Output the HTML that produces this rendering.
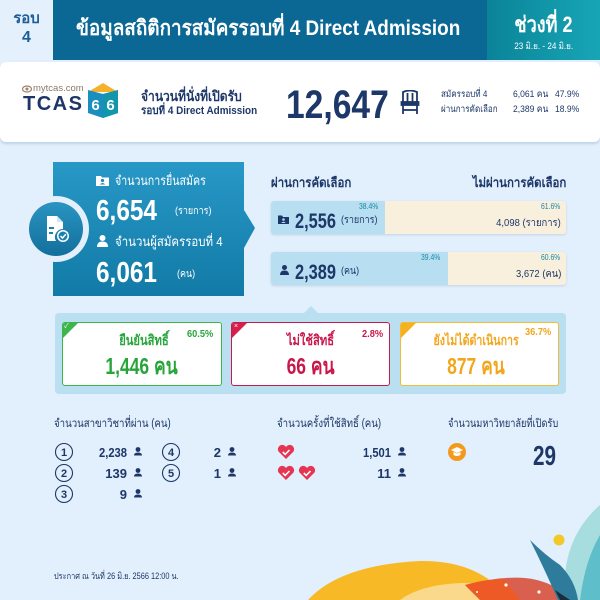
<!DOCTYPE html>
<html><head><meta charset="utf-8">
<style>
*{margin:0;padding:0;box-sizing:border-box}
body{width:600px;height:600px;overflow:hidden;background:#e2effc;font-family:"Liberation Sans","Noto Sans CJK SC",sans-serif;position:relative;color:#1c3768}
.a{position:absolute;white-space:nowrap;line-height:1}
.n{color:#1c3768}
.sx{transform-origin:left center;display:inline-block}
.sc{transform-origin:center center;display:inline-block}
.sr{transform-origin:right center;display:inline-block}
</style></head><body>

<!-- Header -->
<div class="a" style="left:0;top:0;width:53px;height:60px;background:#e4f0fb"></div>
<div class="a" style="left:0;top:11px;width:53px;text-align:center;font-size:15px;font-weight:bold;color:#1c5d98">รอบ</div>
<div class="a" style="left:0;top:30px;width:53px;text-align:center;font-size:16px;font-weight:bold;color:#1c5d98">4</div>
<div class="a" style="left:53px;top:0;width:434px;height:60px;background:#0b6894"></div>
<div class="a" style="left:76px;top:18px;font-size:21px;font-weight:bold;color:#fff"><span class="sx" style="transform:scaleX(.9)">ข้อมูลสถิติการสมัครรอบที่ 4 Direct Admission</span></div>
<div class="a" style="left:487px;top:0;width:113px;height:60px;background:linear-gradient(90deg,#0b8398,#17a6b6)"></div>
<div class="a" style="left:487px;top:14px;width:113px;text-align:center;font-size:22px;font-weight:bold;color:#fff"><span class="sc" style="transform:scaleX(.82)">ช่วงที่ 2</span></div>
<div class="a" style="left:487px;top:42px;width:113px;text-align:center;font-size:9px;color:#fff"><span class="sc" style="transform:scaleX(.9)">23 มิ.ย. - 24 มิ.ย.</span></div>

<!-- White band -->
<div class="a" style="left:0;top:62px;width:600px;height:80px;background:#fff;border-radius:6px;box-shadow:0 2px 2px rgba(120,160,200,.35)"></div>
<svg class="a" style="left:22px;top:85px" width="10" height="8" viewBox="0 0 10 8"><ellipse cx="5" cy="4" rx="4.5" ry="3" fill="none" stroke="#a0826a" stroke-width="1.2"/><circle cx="5" cy="4" r="1.5" fill="#a0826a"/></svg>
<div class="a" style="left:33px;top:84px;font-size:9.5px;color:#8c7868">mytcas.com</div>
<div class="a" style="left:23px;top:94px;font-size:20px;font-weight:bold;color:#1d3567;letter-spacing:1.5px">TCAS</div>
<svg class="a" style="left:86px;top:82px" width="34" height="37" viewBox="0 0 34 37">
<polygon points="2,10 17,1 32,10" fill="#f4b22a"/>
<polygon points="2,8 17,12 32,8 32,31 17,36 2,31" fill="#1a8fbf"/>
<polygon points="17,12 32,8 32,31 17,36" fill="#1196ab"/>
<text x="9.5" y="28" font-family="Liberation Sans" font-size="15" font-weight="bold" fill="#fff" text-anchor="middle">6</text>
<text x="24.5" y="28" font-family="Liberation Sans" font-size="15" font-weight="bold" fill="#fff" text-anchor="middle">6</text>
</svg>
<div class="a n" style="left:141px;top:89px;font-size:14px;font-weight:bold"><span class="sx" style="transform:scaleX(.86)">จำนวนที่นั่งที่เปิดรับ</span></div>
<div class="a n" style="left:141px;top:106px;font-size:11px;font-weight:bold"><span class="sx" style="transform:scaleX(.9)">รอบที่ 4 Direct Admission</span></div>
<div class="a n" style="left:286px;top:85px;font-size:40px;font-weight:bold"><span class="sx" style="transform:scaleX(.84)">12,647</span></div>
<svg class="a" style="left:400px;top:90px" width="20" height="25" viewBox="0 0 20 25" fill="none" stroke="#1c3768" stroke-width="1.8">
<path d="M3 12 V2 Q10 -1 17 2 V12"/><line x1="7.5" y1="3" x2="7.5" y2="12"/><line x1="12.5" y1="3" x2="12.5" y2="12"/>
<rect x="1.5" y="12" width="17" height="3" fill="#1c3768"/><line x1="3" y1="15" x2="3" y2="24"/><line x1="17" y1="15" x2="17" y2="24"/><line x1="3" y1="20" x2="17" y2="20"/>
</svg>
<div class="a n" style="left:441px;top:90px;font-size:9.5px"><span class="sx" style="transform:scaleX(.85)">สมัครรอบที่ 4</span></div>
<div class="a n" style="left:513px;top:90px;font-size:9.5px"><span class="sx" style="transform:scaleX(.9)">6,061 คน</span></div>
<div class="a n" style="left:555px;top:90px;font-size:9.5px"><span class="sx" style="transform:scaleX(.9)">47.9%</span></div>
<div class="a n" style="left:441px;top:105px;font-size:9.5px"><span class="sx" style="transform:scaleX(.85)">ผ่านการคัดเลือก</span></div>
<div class="a n" style="left:513px;top:105px;font-size:9.5px"><span class="sx" style="transform:scaleX(.9)">2,389 คน</span></div>
<div class="a n" style="left:555px;top:105px;font-size:9.5px"><span class="sx" style="transform:scaleX(.9)">18.9%</span></div>

<!-- Blue box -->
<div class="a" style="left:53px;top:162px;width:203px;height:134px;background:linear-gradient(180deg,#2898c7,#127aa6);clip-path:polygon(0 0,191px 0,191px 48px,202px 66px,191px 86px,191px 100%,0 100%);box-shadow:0 2px 3px rgba(0,0,0,.2)"></div>
<div class="a" style="left:23px;top:196px;width:66px;height:66px;border-radius:50%;background:#e3effa"></div>
<div class="a" style="left:29px;top:202px;width:54px;height:54px;border-radius:50%;background:linear-gradient(180deg,#2a94c2,#136f9b)"></div>
<svg class="a" style="left:44px;top:215px" width="26" height="28" viewBox="0 0 26 28">
<path d="M3 1 H13 L19 7 V14 A8 8 0 0 0 12 26 H3 Z" fill="#fff"/>
<path d="M13 1 V7 H19" fill="#cfe6f3"/>
<rect x="5" y="12" width="5" height="2" fill="#1a80ad"/><rect x="5" y="17" width="4" height="2" fill="#1a80ad"/>
<circle cx="19" cy="21" r="6" fill="#fff"/><circle cx="19" cy="21" r="4.5" fill="#1a80ad"/>
<path d="M16.5 21 L18.5 23 L21.8 19.2" stroke="#fff" stroke-width="1.5" fill="none"/>
</svg>
<svg class="a" style="left:96px;top:175px" width="13" height="11" viewBox="0 0 13 11"><path d="M0 1 H5 L6 2.5 H13 V11 H0Z" fill="#fff"/><circle cx="6.5" cy="5.5" r="1.6" fill="#1f88b6"/><path d="M3.8 9.5 Q6.5 6.5 9.2 9.5Z" fill="#1f88b6"/></svg>
<div class="a" style="left:115px;top:174px;font-size:13px;color:#fff"><span class="sx" style="transform:scaleX(.82)">จำนวนการยื่นสมัคร</span></div>
<div class="a" style="left:96px;top:197px;font-size:29px;font-weight:bold;color:#fff"><span class="sx" style="transform:scaleX(.84)">6,654</span></div>
<div class="a" style="left:175px;top:207px;font-size:10px;color:#fff"><span class="sx" style="transform:scaleX(.9)">(รายการ)</span></div>
<svg class="a" style="left:97px;top:235px" width="11" height="12" viewBox="0 0 11 12"><circle cx="5.5" cy="3" r="3" fill="#fff"/><path d="M0 12 Q0 6.5 5.5 6.5 Q11 6.5 11 12Z" fill="#fff"/></svg>
<div class="a" style="left:115px;top:235px;font-size:13px;color:#fff"><span class="sx" style="transform:scaleX(.88)">จำนวนผู้สมัครรอบที่ 4</span></div>
<div class="a" style="left:96px;top:259px;font-size:29px;font-weight:bold;color:#fff"><span class="sx" style="transform:scaleX(.84)">6,061</span></div>
<div class="a" style="left:177px;top:270px;font-size:10px;color:#fff"><span class="sx" style="transform:scaleX(.9)">(คน)</span></div>

<!-- Headings right -->
<div class="a n" style="left:271px;top:176px;font-size:13px;font-weight:bold"><span class="sx" style="transform:scaleX(.88)">ผ่านการคัดเลือก</span></div>
<div class="a n" style="right:34px;top:176px;font-size:13px;font-weight:bold"><span class="sr" style="transform:scaleX(.88)">ไม่ผ่านการคัดเลือก</span></div>

<!-- Bar 1 -->
<div class="a" style="left:271px;top:201px;width:295px;height:33px;border-radius:3px;background:linear-gradient(90deg,#b8def1 0,#b8def1 114px,#f8efdc 114px);box-shadow:0 1px 2px rgba(120,150,180,.3)"></div>
<div class="a" style="left:359px;top:203px;font-size:8px;color:#1a8aa6"><span class="sx" style="transform:scaleX(.85)">38.4%</span></div>
<svg class="a" style="left:278px;top:215px" width="11" height="9" viewBox="0 0 11 9"><path d="M0 0.5 H4 L5 2 H11 V9 H0Z" fill="#1c3768"/><circle cx="5.5" cy="4.5" r="1.3" fill="#b8def1"/><path d="M3.3 8 Q5.5 5.6 7.7 8Z" fill="#b8def1"/></svg>
<div class="a n" style="left:295px;top:211px;font-size:21px;font-weight:bold"><span class="sx" style="transform:scaleX(.78)">2,556</span></div>
<div class="a n" style="left:341px;top:216px;font-size:10px"><span class="sx" style="transform:scaleX(.9)">(รายการ)</span></div>
<div class="a" style="left:541px;top:203px;font-size:8px;color:#1a8aa6"><span class="sx" style="transform:scaleX(.85)">61.6%</span></div>
<div class="a n" style="right:39px;top:218px;font-size:10.5px"><span class="sr" style="transform:scaleX(.9)">4,098 (รายการ)</span></div>

<!-- Bar 2 -->
<div class="a" style="left:271px;top:252px;width:295px;height:33px;border-radius:3px;background:linear-gradient(90deg,#b8def1 0,#b8def1 177px,#f8efdc 177px);box-shadow:0 1px 2px rgba(120,150,180,.3)"></div>
<div class="a" style="left:421px;top:254px;font-size:8px;color:#1a8aa6"><span class="sx" style="transform:scaleX(.85)">39.4%</span></div>
<svg class="a" style="left:280px;top:265px" width="9" height="10" viewBox="0 0 9 10"><circle cx="4.5" cy="2.5" r="2.5" fill="#1c3768"/><path d="M0 10 Q0 5.5 4.5 5.5 Q9 5.5 9 10Z" fill="#1c3768"/></svg>
<div class="a n" style="left:295px;top:262px;font-size:21px;font-weight:bold"><span class="sx" style="transform:scaleX(.78)">2,389</span></div>
<div class="a n" style="left:341px;top:267px;font-size:10px"><span class="sx" style="transform:scaleX(.9)">(คน)</span></div>
<div class="a" style="left:541px;top:254px;font-size:8px;color:#1a8aa6"><span class="sx" style="transform:scaleX(.85)">60.6%</span></div>
<div class="a n" style="right:39px;top:269px;font-size:10.5px"><span class="sr" style="transform:scaleX(.9)">3,672 (คน)</span></div>

<!-- Status panel -->
<div class="a" style="left:55px;top:313px;width:511px;height:81px;background:#b9dff1;border-radius:4px"></div>
<div class="a" style="left:304px;top:306px;width:0;height:0;border-left:7px solid transparent;border-right:7px solid transparent;border-bottom:7px solid #b9dff1"></div>

<div class="a" style="left:62px;top:322px;width:160px;height:64px;background:#fff;border:1.5px solid #3cb54a;border-radius:3px;overflow:hidden">
 <div class="a" style="left:0;top:0;width:0;height:0;border-top:15px solid #3cb54a;border-right:15px solid transparent"></div>
 <div class="a" style="left:1px;top:0;font-size:7px;color:#fff">✓</div>
</div>
<div class="a" style="left:64px;top:333px;width:160px;text-align:center;font-size:14px;font-weight:bold;color:#27a53a"><span class="sc" style="transform:scaleX(.8)">ยืนยันสิทธิ์</span></div>
<div class="a" style="left:187px;top:329px;font-size:10.5px;font-weight:bold;color:#27a53a"><span class="sx" style="transform:scaleX(.88)">60.5%</span></div>
<div class="a" style="left:62px;top:355px;width:160px;text-align:center;font-size:23px;font-weight:bold;color:#27a53a"><span class="sc" style="transform:scaleX(.76)">1,446 คน</span></div>

<div class="a" style="left:231px;top:322px;width:159px;height:64px;background:#fff;border:1.5px solid #c41c4d;border-radius:3px;overflow:hidden">
 <div class="a" style="left:0;top:0;width:0;height:0;border-top:15px solid #d81f4a;border-right:15px solid transparent"></div>
 <div class="a" style="left:2px;top:0;font-size:7px;color:#fff">×</div>
</div>
<div class="a" style="left:231px;top:333px;width:159px;text-align:center;font-size:14px;font-weight:bold;color:#c8174b"><span class="sc" style="transform:scaleX(.8)">ไม่ใช้สิทธิ์</span></div>
<div class="a" style="left:362px;top:329px;font-size:10.5px;font-weight:bold;color:#c8174b"><span class="sx" style="transform:scaleX(.88)">2.8%</span></div>
<div class="a" style="left:231px;top:355px;width:159px;text-align:center;font-size:23px;font-weight:bold;color:#c8174b"><span class="sc" style="transform:scaleX(.76)">66 คน</span></div>

<div class="a" style="left:400px;top:322px;width:159px;height:64px;background:#fff;border:1.5px solid #f3bb33;border-radius:3px;overflow:hidden">
 <div class="a" style="left:0;top:0;width:0;height:0;border-top:15px solid #f5b120;border-right:15px solid transparent"></div>
</div>
<div class="a" style="left:400px;top:333px;width:152px;text-align:center;font-size:14px;font-weight:bold;color:#f2a61c"><span class="sc" style="transform:scaleX(.76)">ยังไม่ได้ดำเนินการ</span></div>
<div class="a" style="left:525px;top:327px;font-size:10.5px;font-weight:bold;color:#f2a61c"><span class="sx" style="transform:scaleX(.88)">36.7%</span></div>
<div class="a" style="left:400px;top:355px;width:152px;text-align:center;font-size:23px;font-weight:bold;color:#f2a61c"><span class="sc" style="transform:scaleX(.76)">877 คน</span></div>

<!-- Bottom stats -->
<div class="a n" style="left:54px;top:419px;font-size:11.5px"><span class="sx" style="transform:scaleX(.84)">จำนวนสาขาวิชาที่ผ่าน (คน)</span></div>
<div class="a n" style="left:277px;top:419px;font-size:11.5px"><span class="sx" style="transform:scaleX(.84)">จำนวนครั้งที่ใช้สิทธิ์ (คน)</span></div>
<div class="a n" style="left:448px;top:419px;font-size:11.5px"><span class="sx" style="transform:scaleX(.8)">จำนวนมหาวิทยาลัยที่เปิดรับ</span></div>

<svg class="a" style="left:0;top:0" width="600" height="600" viewBox="0 0 600 600">
<defs>
<g id="p"><circle cx="0" cy="-2.5" r="2.4" fill="#1c3768"/><path d="M-4 3.5 Q-4 0.5 0 0.5 Q4 0.5 4 3.5Z" fill="#1c3768"/></g>
<g id="h"><path d="M0 7 L-7.5 -0.5 A4 4 0 0 1 0 -5 A4 4 0 0 1 7.5 -0.5 Z" fill="#e53552"/><path d="M-3.2 0 L-0.8 2.4 L3.5 -2" stroke="#fff" stroke-width="1.6" fill="none"/></g>
</defs>
<g fill="none" stroke="#1c3768" stroke-width="1.1">
<circle cx="64" cy="452" r="8.5"/><circle cx="64" cy="473" r="8.5"/><circle cx="64" cy="494" r="8.5"/>
<circle cx="171" cy="452" r="8.5"/><circle cx="171" cy="473" r="8.5"/>
</g>
<g font-family="Liberation Sans" font-size="11" font-weight="bold" fill="#1c3768" text-anchor="middle">
<text x="64" y="456">1</text><text x="64" y="477">2</text><text x="64" y="498">3</text>
<text x="171" y="456">4</text><text x="171" y="477">5</text>
</g>
<g font-family="Liberation Sans" font-size="13" font-weight="bold" fill="#1c3768" text-anchor="end" textLength="0">
<text x="127" y="457" textLength="28" lengthAdjust="spacingAndGlyphs">2,238</text><text x="127" y="478">139</text><text x="127" y="499">9</text>
<text x="221" y="457">2</text><text x="221" y="478">1</text>
<text x="391" y="457" textLength="28" lengthAdjust="spacingAndGlyphs">1,501</text><text x="391" y="478">11</text>
</g>
<use href="#p" x="138" y="452"/><use href="#p" x="138" y="473"/><use href="#p" x="138" y="494"/>
<use href="#p" x="232" y="452"/><use href="#p" x="232" y="473"/>
<use href="#p" x="402" y="452"/><use href="#p" x="402" y="473"/>
<use href="#h" x="286" y="452"/><use href="#h" x="286" y="473"/><use href="#h" x="307" y="473"/>
<circle cx="457" cy="452" r="9" fill="#f39a1e"/>
<path d="M451 450 L457 447 L463 450 L457 453Z" fill="#fff"/><path d="M453.5 452 V455 Q457 457 460.5 455 V452 L457 453.5Z" fill="#fff"/>
<text x="556" y="465" font-family="Liberation Sans" font-size="28" font-weight="bold" fill="#1c3768" text-anchor="end" textLength="23" lengthAdjust="spacingAndGlyphs">29</text>

<!-- decorations -->
<path d="M308 600 Q340 565 420 561 Q480 560 510 600Z" fill="#f8b927"/>
<path d="M400 600 Q420 585 460 583 Q495 582 505 600Z" fill="#fbd98c"/>
<path d="M465 585 Q500 576 525 578 Q545 580 560 590 L565 600 L480 600Z" fill="#d9604e"/>
<path d="M465 585 Q490 578 505 580 L520 600 L480 600Z" fill="#f05a22" opacity=".9"/>
<circle cx="506" cy="585" r="1.6" fill="#fff"/><circle cx="539" cy="592" r="1.6" fill="#fff"/><circle cx="477" cy="592" r="1" fill="#fff"/>
<path d="M565 600 Q560 540 600 505 L600 600Z" fill="#a8dde0"/>
<path d="M530 540 Q545 555 560 565 Q575 580 578 600 L558 600 Q545 570 530 540Z" fill="#2f7b9b"/>
<path d="M580 600 Q585 560 600 535 L600 600Z" fill="#5ebfca"/>
<path d="M555 590 L570 600 L560 600Z" fill="#1c2d3a"/>
<circle cx="559" cy="540" r="5.5" fill="#f5c829"/>
</svg>

<div class="a n" style="left:54px;top:572px;font-size:9px"><span class="sx" style="transform:scaleX(.82)">ประกาศ ณ วันที่ 26 มิ.ย. 2566 12:00 น.</span></div>
</body></html>
